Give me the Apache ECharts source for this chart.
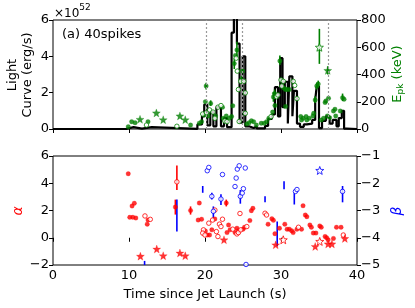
<!DOCTYPE html>
<html><head><meta charset="utf-8">
<script src="https://cdn.jsdelivr.net/npm/echarts/dist/echarts.min.js"></script>
<style>html,body{margin:0;padding:0;background:#fff}#c{width:415px;height:308px}</style>
</head><body><div id="c"></div>
<script>
// ---- Light curve (units of 1e52 erg/s), step bins ----
const lcTime  = [0, 9.6, 10.6, 11.7, 13.0, 19.0, 19.6, 19.9, 20.3, 20.7, 21.1, 21.5, 22.1, 22.5, 22.9, 23.5, 23.8, 24.2, 24.55, 24.95, 25.3, 25.8, 26.4, 26.8, 27.9, 28.3, 28.8, 29.2, 29.6, 29.9, 30.2, 30.5, 30.9, 31.1, 31.5, 31.7, 32.1, 32.5, 33.0, 33.4, 34.1, 34.5, 34.7, 35.0, 35.4, 35.9, 36.4, 36.8, 37.3, 37.6, 38.0, 38.3, 38.6, 40];
const lcValue = [0, 0.1, 0.02, 0.1, 0.01, 0.25, 0.7, 1.35, 0.2, 0.95, 0.15, 1.2, 0.15, 0.6, 0.1, 5.3, 7.0, 4.7, 0.35, 4.0, 0.15, 0.05, 0.15, 0.03, 0.17, 0.55, 0.8, 2.3, 0.7, 3.9, 1.2, 2.6, 0.3, 2.9, 0.7, 2.1, 0.3, 0.12, 0.25, 0.3, 0.5, 1.6, 2.35, 0.05, 0.45, 0.7, 0.3, 0.5, 0.15, 0.6, 1.0, 0.02, 0, 0];
const vLines = [20.2, 24.9, 36.2];

// ---- Epk (keV) ----
const epkFilled = [[9.9,17],[10.35,54],[10.8,46],[12.5,54],[18.1,29],[19.25,42],[19.55,54],[19.9,103],[20.05,200],[20.15,316],[20.4,96],[20.75,188],[21.4,96],[22.3,160],[22.4,79],[22.8,96],[23.2,79],[23.5,91],[23.65,170],[23.85,480],[24.0,540],[24.2,580],[24.8,360],[24.95,425],[25.5,37],[25.8,46],[26.1,60],[26.4,54],[26.75,29],[27.4,42],[27.8,42],[28.1,54],[28.4,79],[28.9,124],[29.0,235],[29.15,260],[29.2,172],[29.85,500],[30.4,300],[30.6,290],[30.6,165],[30.8,290],[31.1,290],[32.6,91],[32.9,79],[33.3,91],[32.7,66],[33.4,66],[33.7,79],[34.2,96],[34.3,115],[34.5,213],[34.7,316],[34.9,330],[35.3,66],[35.6,79],[35.8,195],[35.9,206],[36.25,225],[36.1,96],[36.4,83],[36.9,132],[37.1,145],[37.2,96],[37.8,132],[38.1,230],[38.3,218]];
const epkOpen = [[12.3,29],[16.3,20],[19.7,110],[20.2,120],[20.6,140],[21.05,124],[21.3,79],[21.7,160],[22.1,172],[22.6,59],[22.9,54],[24.1,520],[24.25,425],[24.4,290],[24.5,55],[24.7,350],[25.1,350],[25.3,265],[25.3,115],[28.7,91],[29.4,237],[29.6,250],[30.0,360],[30.1,315],[30.3,350],[31.6,350],[31.8,320],[32.1,223]];
const epkStar = [[11.45,71],[13.6,118],[14.5,68],[16.7,96],[17.4,68],[36.15,430]];
const epkOpenStar = [[35.05,600]];
const epkErr = [[20.15,290,340],[20.75,170,210],[23.85,440,520],[24.2,520,640],[24.8,330,390],[29.0,200,270],[29.15,235,290],[29.85,470,540],[34.5,190,240],[34.7,290,340],[34.9,305,355],[35.05,478,735],[36.15,400,460],[38.1,205,260]];

// ---- alpha ----
const alphaFilled = [[9.9,4.7],[10.1,1.5],[10.5,1.5],[10.9,1.45],[10.4,2.33],[10.7,2.53],[12.5,1.3],[12.4,1.0],[16.1,2.25],[18.1,2.0],[19.25,2.55],[19.1,1.3],[19.55,1.36],[20.05,0.5],[20.3,0.2],[20.6,0.2],[20.9,0.58],[21.3,1.38],[22.8,2.55],[22.9,0.38],[23.1,0.94],[23.3,0.58],[23.95,0.38],[24.2,0.7],[24.4,0.52],[25.0,0.63],[25.2,0.77],[25.9,1.26],[26.1,1.99],[26.3,2.16],[28.3,1.0],[28.8,1.4],[29.0,1.28],[29.2,0.3],[29.8,0.7],[30.5,1.0],[30.8,0.63],[31.1,0.63],[31.4,0.52],[31.6,0.38],[32.1,0.63],[32.7,0.63],[32.9,2.35],[33.2,1.67],[33.4,1.55],[33.8,0.94],[34.0,0.77],[34.25,0.34],[34.6,0.34],[35.1,0.87],[35.3,0.77],[35.8,0.09],[36.0,0.0],[36.2,-0.15],[36.9,-0.05],[37.3,0.77],[37.9,0.77]];
const alphaOpen = [[12.1,1.6],[12.8,1.35],[16.3,4.1],[19.8,0.58],[19.7,0.34],[20.0,0.2],[20.5,1.07],[21.0,1.3],[21.3,2.03],[21.5,0.45],[21.7,0.09],[21.9,1.0],[22.1,0.82],[22.3,1.36],[23.65,0.63],[24.2,0.28],[24.4,0.38],[24.6,1.78],[24.7,0.58],[25.5,0.82],[27.9,1.8],[28.1,1.67],[32.3,0.77],[38.2,0.2]];
const alphaStar = [[11.5,-1.35],[13.65,-0.83],[14.5,-1.32],[16.7,-1.12],[17.4,-1.32],[22.5,-0.15],[29.3,-0.52],[34.5,-0.64],[36.2,-0.45],[36.7,-0.45],[38.4,-0.05]];
const alphaOpenStar = [[30.3,-0.15],[35.1,-0.27]];
const alphaErr = [[16.3,3.5,5.3],[16.1,1.7,2.8],[18.1,1.7,2.3],[22.8,2.3,2.8]];

// ---- beta ----
const betaOpen = [[20.3,-1.54],[20.5,-1.42],[20.9,-2.48],[21.1,-3.03],[22.1,-2.58],[22.3,-1.68],[23.95,-2.12],[24.1,-1.81],[24.25,-1.48],[24.5,-1.36],[24.65,-2.48],[24.9,-2.36],[25.05,-2.2],[25.3,-1.44],[25.4,-4.98],[31.9,-2.3],[32.1,-2.23],[38.1,-2.3]];
const betaOpenStar = [[35.1,-1.53]];
const betaErr = [[12.05,-5.5,-4.85],[16.3,-3.77,-2.6],[19.7,-2.35,-2.1],[27.9,-2.7,-2.48],[29.5,-4.31,-3.4],[30.4,-2.22,-1.93],[31.75,-2.78,-2.36],[20.9,-2.6,-2.35],[21.1,-3.3,-2.85],[22.1,-2.8,-2.4],[24.65,-2.75,-2.25],[38.1,-2.7,-2.1]];

const xTicks = [0, 10, 20, 30, 40];

const GREEN = '#008000', RED = '#ff0000', BLUE = '#0000ff';
const FONT = 'DejaVu Sans';
const starPath = (function(){let p='';for(let i=0;i<10;i++){const r=i%2?0.42:1;const a=-Math.PI/2+i*Math.PI/5;p+=(i?'L':'M')+(r*Math.cos(a)).toFixed(3)+' '+(r*Math.sin(a)).toFixed(3)+' ';}return 'path://'+p+'Z';})();

function errSeries(data, xi, yi, color){
  return {type:'custom', xAxisIndex:xi, yAxisIndex:yi, clip:true, z:3, data:data,
    renderItem:function(params, api){
      const a = api.coord([api.value(0), api.value(1)]);
      const b = api.coord([api.value(0), api.value(2)]);
      return {type:'line', shape:{x1:a[0],y1:a[1],x2:b[0],y2:b[1]}, style:{stroke:color, lineWidth:1.6}};
    }};
}
function sc(data, xi, yi, color, sym, open, size){
  return {type:'scatter', xAxisIndex:xi, yAxisIndex:yi, data:data, symbol:sym, symbolSize:size, z:4, clip:true,
    itemStyle: open ? {color:'#fff', borderColor:color, borderWidth:1} : {color:color, borderColor:color, borderWidth:0.3}};
}

const chart = echarts.init(document.getElementById('c'), null, {renderer:'canvas'});
const axisCommon = {axisLine:{show:false}, splitLine:{show:false}, axisTick:{show:true, length:4, lineStyle:{color:'#000'}}, axisLabel:{color:'#000', fontSize:13, fontFamily:FONT, margin:4}};
chart.setOption({
  animation:false,
  textStyle:{fontFamily:FONT},
  grid:[
    {left:53, right:58, top:20, height:109, show:true, borderColor:'#000', borderWidth:1, backgroundColor:'transparent'},
    {left:53, right:58, top:156, height:109, show:true, borderColor:'#000', borderWidth:1, backgroundColor:'transparent'}
  ],
  xAxis:[
    Object.assign({}, axisCommon, {type:'value', gridIndex:0, min:xTicks[0], max:xTicks[xTicks.length-1], interval:10, axisLabel:{show:false}}),
    Object.assign({}, axisCommon, {type:'value', gridIndex:1, min:xTicks[0], max:xTicks[xTicks.length-1], interval:10})
  ],
  yAxis:[
    Object.assign({}, axisCommon, {type:'value', gridIndex:0, position:'left', min:0, max:6, interval:2}),
    Object.assign({}, axisCommon, {type:'value', gridIndex:0, position:'right', min:0, max:800, interval:200}),
    Object.assign({}, axisCommon, {type:'value', gridIndex:1, position:'left', min:-2, max:6, interval:2,
      axisLabel:{color:'#000', fontSize:13, fontFamily:FONT, margin:4, formatter:function(v){return v<0?'\u2212'+Math.abs(v):String(v);}}}),
    Object.assign({}, axisCommon, {type:'value', gridIndex:1, position:'right', min:-5, max:-1, interval:1,
      axisLabel:{color:'#000', fontSize:13, fontFamily:FONT, margin:4, formatter:function(v){return v<0?'\u2212'+Math.abs(v):String(v);}}})
  ],
  series:[
    {type:'line', xAxisIndex:0, yAxisIndex:0, step:'end', showSymbol:false, symbol:'none', clip:true, z:2,
     data: lcTime.map((t,i)=>[t, lcValue[i]]), lineStyle:{color:'#000', width:2.2},
     markLine:{silent:true, symbol:'none', label:{show:false}, lineStyle:{color:'#999', type:[2,2], width:1.2},
       data: vLines.map(v=>({xAxis:v}))}},
    errSeries(epkErr, 0, 1, GREEN),
    sc(epkFilled, 0, 1, GREEN, 'circle', false, 4.5),
    sc(epkOpen, 0, 1, GREEN, 'circle', true, 4.5),
    sc(epkStar, 0, 1, GREEN, starPath, false, 8),
    sc(epkOpenStar, 0, 1, GREEN, starPath, true, 8),
    errSeries(alphaErr, 1, 2, RED),
    errSeries(betaErr, 1, 3, BLUE),
    sc(alphaFilled, 1, 2, RED, 'circle', false, 4.5),
    sc(alphaOpen, 1, 2, RED, 'circle', true, 4.5),
    sc(alphaStar, 1, 2, RED, starPath, false, 8),
    sc(alphaOpenStar, 1, 2, RED, starPath, true, 8),
    sc(betaOpen, 1, 3, BLUE, 'circle', true, 4.5),
    sc(betaOpenStar, 1, 3, BLUE, starPath, true, 8)
  ],
  graphic:[
    {type:'text', left:54, top:3, style:{text:'{a|\u00d710}{b|52}', rich:{a:{fontSize:12, fontFamily:FONT, fill:'#000', padding:[5,0,0,0]}, b:{fontSize:9, fontFamily:FONT, fill:'#000', verticalAlign:'top'}}}},
    {type:'text', x:62, y:35, style:{text:'(a) 40spikes', fontSize:13, fontFamily:FONT, fill:'#000', textVerticalAlign:'middle'}},
    {type:'text', x:20, y:75, rotation:Math.PI/2, style:{text:'Light\nCurve (erg/s)', fontSize:13, lineHeight:15, fontFamily:FONT, fill:'#000', textAlign:'center', textVerticalAlign:'middle'}},
    {type:'text', x:398, y:74, rotation:Math.PI/2, style:{text:'{e|E}{s|pk}{e| (keV)}', textAlign:'center', textVerticalAlign:'middle', rich:{e:{fontSize:13, fontFamily:FONT, fill:GREEN}, s:{fontSize:9, fontFamily:FONT, fill:GREEN, verticalAlign:'bottom', padding:[6,0,0,0]}}}},
    {type:'text', x:18, y:211, rotation:Math.PI/2, style:{text:'\u03b1', fontSize:14, fontStyle:'italic', fontFamily:FONT, fill:RED, textAlign:'center', textVerticalAlign:'middle'}},
    {type:'text', x:397, y:211, rotation:Math.PI/2, style:{text:'\u03b2', fontSize:14, fontStyle:'italic', fontFamily:FONT, fill:BLUE, textAlign:'center', textVerticalAlign:'middle'}},
    {type:'text', x:205, y:295, style:{text:'Time since Jet Launch (s)', fontSize:13, fontFamily:FONT, fill:'#000', textAlign:'center', textVerticalAlign:'middle'}}
  ]
});
</script></body></html>
